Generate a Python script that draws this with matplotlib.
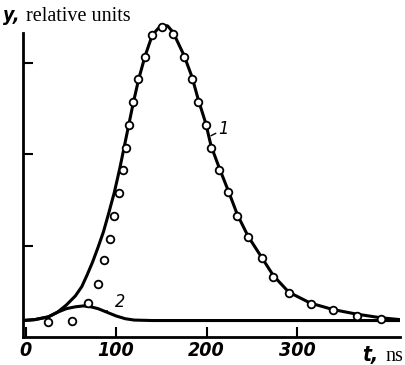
import numpy as np
import matplotlib.pyplot as plt

# measured points (circles)
t_pts = [25, 51, 69, 80, 87, 93, 98, 103, 108, 111, 114, 119, 124, 132, 140,
         151, 163, 175, 184, 191, 199, 205, 214, 224, 234, 246, 261, 274, 291,
         316, 340, 366, 393]
y_pts = [0.16, 0.17, 0.37, 0.58, 0.84, 1.07, 1.32, 1.57, 1.82, 2.07, 2.32,
         2.57, 2.82, 3.06, 3.30, 3.39, 3.31, 3.06, 2.82, 2.57, 2.32, 2.07,
         1.83, 1.59, 1.32, 1.09, 0.86, 0.66, 0.48, 0.36, 0.29, 0.23, 0.20]

# curve 1
t_c1 = [-3, 10, 25, 35, 45, 55, 62, 68, 74, 80, 86, 92, 98, 104, 109, 114,
        119, 125, 132, 140, 150, 157, 163, 175, 184, 191, 199, 205, 214, 224,
        234, 246, 261, 274, 291, 315, 340, 366, 393, 414]
y_c1 = [0.18, 0.19, 0.22, 0.27, 0.35, 0.45, 0.55, 0.68, 0.82, 0.98, 1.15,
        1.36, 1.58, 1.84, 2.08, 2.32, 2.56, 2.82, 3.07, 3.30, 3.41, 3.40,
        3.33, 3.08, 2.84, 2.59, 2.34, 2.09, 1.85, 1.60, 1.34, 1.10, 0.87,
        0.67, 0.49, 0.37, 0.30, 0.25, 0.21, 0.19]

# curve 2
t_c2 = [-3, 10, 25, 35, 45, 55, 64, 72, 80, 90, 100, 110, 120, 140, 200, 300, 414]
y_c2 = [0.18, 0.19, 0.22, 0.27, 0.31, 0.33, 0.34, 0.33, 0.31, 0.27, 0.23,
        0.20, 0.185, 0.18, 0.18, 0.18, 0.18]

xtick_vals = [0, 100, 200, 300]
ytick_vals = [1, 2, 3]

narrow = dict(family='DejaVu Sans', stretch='condensed', style='italic')

fig = plt.figure(figsize=(4.06, 3.65), dpi=100)
ax = fig.add_axes([23 / 406, 28 / 365, 377 / 406, 320.25 / 365])

ax.plot(t_c1, y_c1, color='black', lw=2.2, solid_capstyle='round')
ax.plot(t_c2, y_c2, color='black', lw=2.2, solid_capstyle='round')
ax.plot(t_pts, y_pts, 'o', ms=5.5, mfc='white', mec='black', mew=1.3)

ax.set_xlim(-3, 414)
ax.set_ylim(0, 3.5)
ax.spines['top'].set_visible(False)
ax.spines['right'].set_visible(False)
ax.spines['left'].set_linewidth(2)
ax.spines['bottom'].set_linewidth(2)
ax.spines['left'].set_bounds(0, 3.32)

ax.set_yticks(ytick_vals)
ax.set_yticklabels([])
ax.set_xticks(xtick_vals)
ax.set_xticklabels([str(v) for v in xtick_vals])
ax.tick_params(axis='both', direction='in', length=7, width=1.5)
ax.tick_params(axis='x', pad=3)
for lbl in ax.get_xticklabels():
    lbl.set(fontweight='bold', fontsize=14, **narrow)

# curve labels
ax.annotate('2', xy=(89, 0.28), xytext=(104, 0.38), fontsize=13,
            ha='center', va='center', **narrow,
            arrowprops=dict(arrowstyle='-', lw=1, color='black', shrinkB=0, shrinkA=4))
ax.annotate('1', xy=(205, 2.20), xytext=(219, 2.27), fontsize=13,
            ha='center', va='center', **narrow,
            arrowprops=dict(arrowstyle='-', lw=1, color='black', shrinkB=0, shrinkA=4))

# axis titles
fig.text(3 / 406, 1 - 21 / 365, 'y,', fontsize=14, fontweight='bold', **narrow)
fig.text(26 / 406, 1 - 21 / 365, 'relative units', fontsize=14.5,
         family=['Liberation Serif', 'DejaVu Serif'])
fig.text(362 / 406, 1 - 361 / 365, 't,', fontsize=15, fontweight='bold', **narrow)
fig.text(385 / 406, 1 - 361 / 365, 'ns', fontsize=14.5,
         family=['Liberation Serif', 'DejaVu Serif'])

fig.savefig('out.png', dpi=100)
